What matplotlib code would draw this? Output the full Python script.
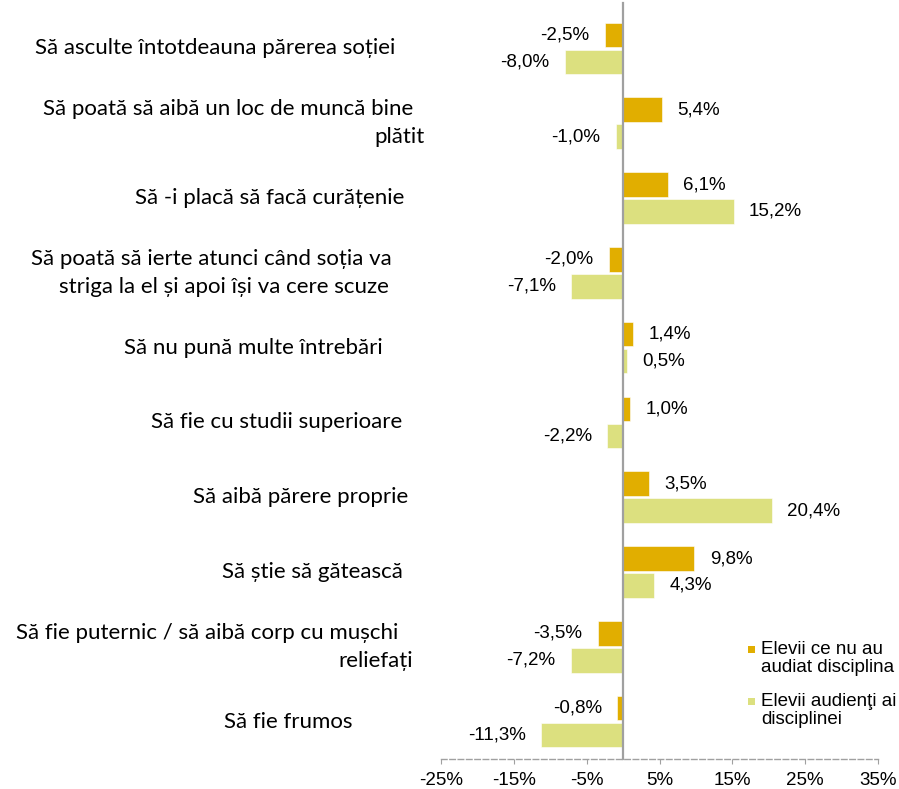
import matplotlib
matplotlib.use("Agg")
import matplotlib.pyplot as plt
from matplotlib.patches import Rectangle
import numpy as np

# ---------------- data ----------------
categories = [
    ["Să asculte întotdeauna părerea soției"],
    ["Să poată să aibă un loc de muncă bine", "plătit"],
    ["Să -i placă să facă curățenie"],
    ["Să poată să ierte atunci când soția va", "striga la el și apoi își va cere scuze"],
    ["Să nu pună multe întrebări"],
    ["Să fie cu studii superioare"],
    ["Să aibă părere proprie"],
    ["Să știe să gătească"],
    ["Să fie puternic / să aibă corp cu mușchi", "reliefați"],
    ["Să fie frumos"],
]
not_attended = [-2.5, 5.4, 6.1, -2.0, 1.4, 1.0, 3.5, 9.8, -3.5, -0.8]
attended = [-8.0, -1.0, 15.2, -7.1, 0.5, -2.2, 20.4, 4.3, -7.2, -11.3]
series_names = ["Elevii ce nu au\naudiat disciplina", "Elevii audienţi ai\ndisciplinei"]
xticks = [-25, -15, -5, 5, 15, 25, 35]

# ---------------- layout (pixels) ----------------
W, H = 899, 789
label_right_px = [[395], [413, 425], [404], [392, 389], [383], [402], [408], [403], [398, 413], [353]]

c_orange = "#E1AE00"
c_green = "#DCE07F"
val_font = ["Liberation Sans", "DejaVu Sans"]
cat_font = ["Lato", "DejaVu Sans"]

fig = plt.figure(figsize=(W / 100, H / 100), dpi=100)
ax_left, ax_right, ax_top, ax_bottom = 441, 878, 11, 759
ax = fig.add_axes([ax_left / W, 1 - ax_bottom / H, (ax_right - ax_left) / W, (ax_bottom - ax_top) / H])

n = len(categories)
y = np.arange(n)
off = 0.18
h = 0.33
ax.barh(y - off, not_attended, height=h, color=c_orange, edgecolor="white", linewidth=0.4)
ax.barh(y + off, attended, height=h, color=c_green, edgecolor="white", linewidth=0.4)

ax.set_xlim(-25, 35)
ax.set_ylim(n - 0.5, -0.5)

for vals, dy in ((not_attended, -off), (attended, off)):
    for i, v in enumerate(vals):
        txt = f"{v:.1f}%".replace(".", ",")
        ax.annotate(txt, (v, i + dy), xytext=(11 if v >= 0 else -11, 0),
                    textcoords="offset points", ha="left" if v >= 0 else "right",
                    va="center", fontsize=13.5, family=val_font, color="#000000")

ax.axvline(0, ymin=0, ymax=1.011, color="#A0A0A0", lw=1.6, clip_on=False, zorder=3)

for s in ["top", "right", "left"]:
    ax.spines[s].set_visible(False)
ax.spines["bottom"].set_color("#A0A0A0")
ax.spines["bottom"].set_linestyle((0, (4, 2)))
ax.spines["bottom"].set_linewidth(1.0)
ax.set_yticks([])
ax.set_xticks(xticks)
ax.set_xticklabels([f"{t}%" for t in xticks], fontsize=13.5, family=val_font)
ax.tick_params(axis="x", direction="out", length=3.5, color="#A0A0A0", pad=6)

# category labels
fig.canvas.draw()
renderer = fig.canvas.get_renderer()
probe = fig.text(0, 0, categories[0][0], fontsize=14, family=cat_font)
wpx = probe.get_window_extent(renderer).width
probe.remove()
cat_size = 14 * 361 / wpx

def fy(ypx):
    return 1 - ypx / H

for i, lines in enumerate(categories):
    center = ax_top + (i + 0.5) * (ax_bottom - ax_top) / n
    if len(lines) == 1:
        ys = [center]
    else:
        ys = [center - 14, center + 14]
    for line, ypx, xr in zip(lines, ys, label_right_px[i]):
        fig.text(xr / W, fy(ypx), line, ha="right", va="center", fontsize=cat_size,
                 family=cat_font, color="#000000")

# legend (manual)
for color, name, ytop in ((c_orange, series_names[0], 646), (c_green, series_names[1], 698)):
    fig.patches.append(Rectangle((748 / W, fy(ytop + 7)), 7 / W, 7 / H, transform=fig.transFigure,
                                 facecolor=color, edgecolor="none"))
    l1, l2 = name.split("\n")
    fig.text(761 / W, fy(ytop + 4), l1, ha="left", va="center", fontsize=13.5, family=val_font)
    fig.text(761 / W, fy(ytop + 22), l2, ha="left", va="center", fontsize=13.5, family=val_font)

fig.savefig("out.png", dpi=100)
